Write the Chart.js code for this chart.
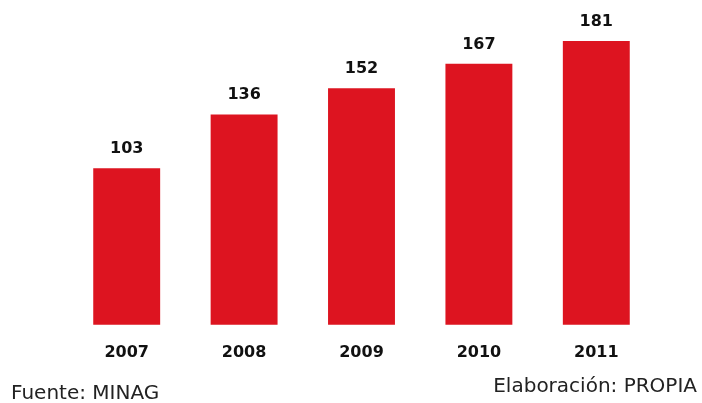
<!DOCTYPE html>
<html>
<head>
<meta charset="utf-8">
<script src="https://cdn.jsdelivr.net/npm/chart.js@4"></script>
<style>
  html, body { margin: 0; padding: 0; background: #fff; }
  #wrap { position: relative; width: 702px; height: 403px; }
  .note {
    position: absolute;
    font-family: "DejaVu Sans", sans-serif;
    font-size: 20px;
    color: #222;
    white-space: nowrap;
    line-height: 1;
  }
  #fuente { left: 11px; top: 382px; }
  #elab { right: 5px; top: 375px; }
</style>
</head>
<body>
<div id="wrap">
  <canvas id="chart" width="702" height="403"></canvas>
  <div class="note" id="fuente">Fuente: MINAG</div>
  <div class="note" id="elab">Elaboración: PROPIA</div>
</div>
<script>
const years = ['2007', '2008', '2009', '2010', '2011'];
const values = [103, 136, 152, 167, 181];
const barColor = '#dd1420';

// Writes each bar's value just above it
const valueLabels = {
  id: 'valueLabels',
  afterDatasetsDraw(chart) {
    const ctx = chart.ctx;
    const meta = chart.getDatasetMeta(0);
    ctx.save();
    ctx.font = 'bold 16px "DejaVu Sans", sans-serif';
    ctx.fillStyle = '#111';
    ctx.textAlign = 'center';
    ctx.textBaseline = 'alphabetic';
    meta.data.forEach((bar, i) => {
      ctx.fillText(String(values[i]), bar.x, bar.y - 15);
    });
    ctx.restore();
  }
};

new Chart(document.getElementById('chart'), {
  type: 'bar',
  data: {
    labels: years,
    datasets: [{
      data: values,
      backgroundColor: barColor,
      borderWidth: 0,
      categoryPercentage: 1,
      barPercentage: 0.57
    }]
  },
  options: {
    responsive: false,
    animation: false,
    layout: { padding: { left: 68, right: 47, top: 10, bottom: 23 } },
    scales: {
      x: {
        grid: { display: false, drawTicks: false },
        border: { display: false },
        ticks: {
          padding: 18,
          color: '#111',
          font: { family: '"DejaVu Sans", sans-serif', size: 16, weight: 'bold' }
        }
      },
      y: {
        display: false,
        min: 7,
        max: 200
      }
    },
    plugins: {
      legend: { display: false },
      tooltip: { enabled: false }
    }
  },
  plugins: [valueLabels]
});
</script>
</body>
</html>
